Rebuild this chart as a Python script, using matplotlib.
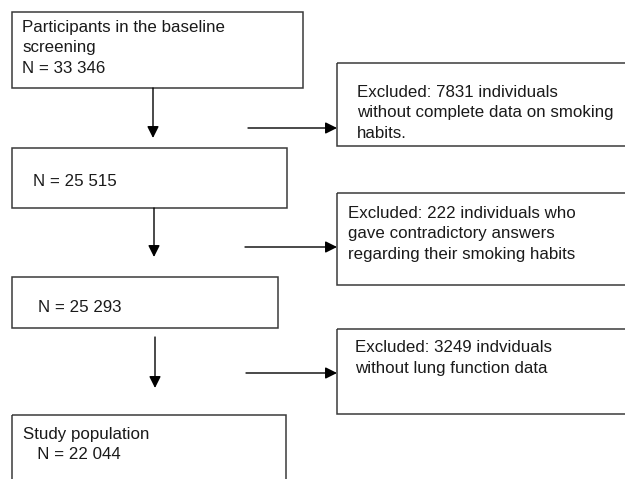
import matplotlib
matplotlib.use("Agg")
import matplotlib.pyplot as plt
from matplotlib.patches import Rectangle

# ---- content ----
main_lines = [
    ["Participants in the baseline", "screening", "N = 33 346"],
    ["N = 25 515"],
    ["N = 25 293"],
    ["Study population", "   N = 22 044"],
]
excluded_lines = [
    ["Excluded: 7831 individuals", "without complete data on smoking", "habits."],
    ["Excluded: 222 individuals who", "gave contradictory answers", "regarding their smoking habits"],
    ["Excluded: 3249 indviduals", "without lung function data"],
]

# ---- layout (pixel coordinates) ----
W, H = 625, 479
main_boxes = [(12, 12, 303, 88), (12, 148, 287, 208), (12, 277, 278, 328), (12, 415, 286, 490)]
main_text_pos = [(22, 27), (33, 182), (38, 307), (23, 434)]
excl_boxes = [(337, 63, 640, 146), (337, 193, 640, 285), (337, 329, 640, 414)]
excl_text_pos = [(357, 92), (348, 213), (355, 348)]
down_arrows = [(153, 88, 138), (154, 208, 257), (155, 337, 388)]
side_arrows = [(248, 128), (245, 247), (246, 373)]
line_step = 20.5

fig = plt.figure(figsize=(W / 100, H / 100), dpi=100)
ax = fig.add_axes([0, 0, 1, 1])
ax.set_xlim(0, W)
ax.set_ylim(H, 0)
ax.axis("off")

edge = "#3a3a3a"
font = dict(family=["Liberation Sans", "DejaVu Sans"], fontsize=12.2, color="#1a1a1a")

for (x0, y0, x1, y1) in main_boxes + excl_boxes:
    ax.add_patch(Rectangle((x0, y0), x1 - x0, y1 - y0, fill=False, edgecolor=edge, lw=1.1))

for lines, (tx, ty) in zip(main_lines + excluded_lines, main_text_pos + excl_text_pos):
    for i, s in enumerate(lines):
        ax.text(tx, ty + i * line_step, s, ha="left", va="center", **font)

ap = dict(arrowstyle="-|>,head_length=0.7,head_width=0.35", mutation_scale=10, lw=1.0,
          color="black", shrinkA=0, shrinkB=0)
for (x, y0, y1) in down_arrows:
    ax.annotate("", xy=(x, y1), xytext=(x, y0), arrowprops=ap)
for (x0, y) in side_arrows:
    ax.annotate("", xy=(337, y), xytext=(x0, y), arrowprops=ap)

fig.savefig("out.png", dpi=100, facecolor="white")
